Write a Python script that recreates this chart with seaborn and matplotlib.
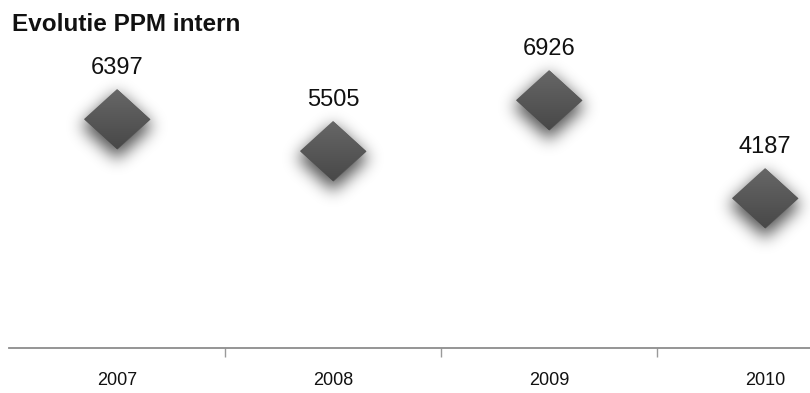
import matplotlib
matplotlib.use("Agg")
import matplotlib.pyplot as plt
from matplotlib.path import Path
from matplotlib.patches import Polygon
import numpy as np
import seaborn as sns
import pandas as pd

# Data
years = ["2007", "2008", "2009", "2010"]
ppm = [6397, 5505, 6926, 4187]
title = "Evolutie PPM intern"

df = pd.DataFrame({"year": years, "ppm": ppm})
df["pos"] = range(len(df))

sns.set_theme(style="white")
plt.rcParams["font.family"] = ["Liberation Sans", "DejaVu Sans"]

W, H, DPI = 810, 393, 100
fig = plt.figure(figsize=(W / DPI, H / DPI), dpi=DPI)
fig.patch.set_facecolor("white")

# axes spans 4 category slots of 216 px, starting at x=9; bottom at y=348
left_px, slot_px = 9, 216
bottom_px, top_px = 348, 26
ax = fig.add_axes([left_px / W, (H - bottom_px) / H,
                   4 * slot_px / W, (bottom_px - top_px) / H])
ax.set_facecolor("none")
XLIM, YLIM = (-0.5, 3.5), (0, 9000)
ax.set_xlim(*XLIM)
ax.set_ylim(*YLIM)

# diamond marker geometry (pixels)
DW, DH = 66, 60
diamond = Path([(0, DH / 2), (DW / 2, 0), (0, -DH / 2), (-DW / 2, 0), (0, DH / 2)],
               [Path.MOVETO, Path.LINETO, Path.LINETO, Path.LINETO, Path.CLOSEPOLY])
marker_s = (DW * 72 / DPI) ** 2

to_px = ax.transData
to_data = ax.transData.inverted()


def px_extent(cx, cy, half_w, half_h):
    (x0, y0) = to_data.transform((cx - half_w, cy - half_h))
    (x1, y1) = to_data.transform((cx + half_w, cy + half_h))
    return x0, x1, y0, y1


def gaussian_blur(img, sigma):
    r = int(3 * sigma)
    k = np.exp(-0.5 * (np.arange(-r, r + 1) / sigma) ** 2)
    k /= k.sum()
    img = np.apply_along_axis(lambda m: np.convolve(m, k, mode="same"), 0, img)
    img = np.apply_along_axis(lambda m: np.convolve(m, k, mode="same"), 1, img)
    return img


# blurred drop shadow sprite (row 0 = top)
SH = 80  # half size of sprite in px
yy, xx = np.mgrid[-SH:SH, -SH:SH] + 0.5
shadow_dy = 7
mask = (np.abs(xx) / (DW / 2 + 3) + np.abs(yy - shadow_dy) / (DH / 2 + 3) <= 1).astype(float)
soft = gaussian_blur(mask, 8.0)
shadow_rgba = np.zeros((2 * SH, 2 * SH, 4))
shadow_rgba[..., 3] = 0.68 * soft

# vertical body gradient, light top to dark bottom
g = np.linspace(0, 1, 64)[:, None]
top_c, bot_c = np.array([0x67, 0x67, 0x67]) / 255, np.array([0x48, 0x48, 0x48]) / 255
grad = (top_c * (1 - g[..., None]) + bot_c * g[..., None]) * np.ones((64, 4, 3))

for x, v in zip(df["pos"], df["ppm"]):
    cx, cy = to_px.transform((x, v))
    ax.imshow(shadow_rgba, extent=px_extent(cx, cy, SH, SH), origin="upper",
              aspect="auto", interpolation="bilinear", zorder=1)

# diamonds
sns.scatterplot(data=df, x="pos", y="ppm", ax=ax, marker=diamond, s=marker_s,
                color="#575757", linewidth=0, legend=False, zorder=3)

for x, v in zip(df["pos"], df["ppm"]):
    cx, cy = to_px.transform((x, v))
    verts = [to_data.transform((cx + dx, cy + dy))
             for dx, dy in [(0, DH / 2), (DW / 2, 0), (0, -DH / 2), (-DW / 2, 0)]]
    clip = Polygon(verts, closed=True, transform=ax.transData, facecolor="none",
                   edgecolor="none")
    ax.add_patch(clip)
    im = ax.imshow(grad, extent=px_extent(cx, cy, DW / 2, DH / 2), origin="upper",
                   aspect="auto", interpolation="bilinear", zorder=4)
    im.set_clip_path(clip)

ax.set_xlim(*XLIM)
ax.set_ylim(*YLIM)

# value labels
for x, v in zip(df["pos"], df["ppm"]):
    ax.annotate(f"{v}", (x, v), xytext=(0, 32.5), textcoords="offset points",
                ha="center", va="baseline", fontsize=17, color="#111111",
                zorder=5)

# axis styling
for s in ["left", "right", "top"]:
    ax.spines[s].set_visible(False)
ax.spines["bottom"].set_color("#8c8c8c")
ax.spines["bottom"].set_linewidth(1.3)
ax.set_yticks([])
ax.set_xticks(df["pos"])
ax.set_xticklabels(years, fontsize=13, color="#111111")
ax.tick_params(axis="x", which="major", length=0, pad=17)
ax.set_xticks([0.5, 1.5, 2.5], minor=True)
ax.tick_params(axis="x", which="minor", length=6.5, width=1, color="#9a9a9a",
               direction="out", bottom=True)
ax.set_xlabel("")
ax.set_ylabel("")

fig.text(12 / W, 1 - 31 / H, title, fontsize=17.5, fontweight="bold",
         color="#111111", ha="left", va="baseline")

fig.savefig("out.png", dpi=DPI, facecolor="white")
